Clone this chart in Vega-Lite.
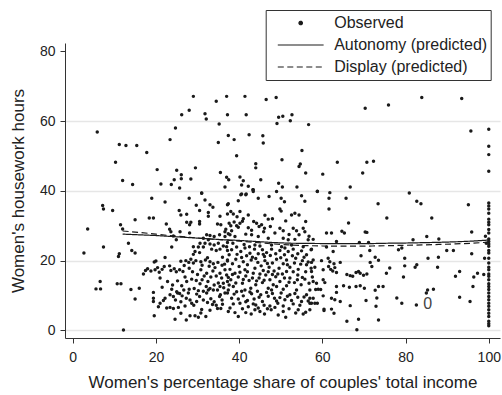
{
"$schema": "https://vega.github.io/schema/vega-lite/v6.json",
"width": 435, "height": 295,
"autosize": "none",
"padding": {"left": 65, "top": 43, "right": 2, "bottom": 57},
"background": "white",
"config": {"view": {"stroke": null}, "font": "Liberation Sans",
 "legend": {"title": null, "orient": "none", "legendX": 200.7, "legendY": -33, "symbolType": "stroke", "symbolSize": 2100, "symbolStrokeWidth": 1.2, "clipHeight": 20, "rowPadding": 2, "padding": 3, "symbolOffset": 8,
    "labelFont": "Liberation Sans", "labelFontSize": 16, "labelColor": "#222", "labelOffset": 9.5, "strokeColor": "#333", "fillColor": "white"}},
"datasets": {
"obs": [
{"x":29.0,"y":67.1},{"x":37.0,"y":67.1},{"x":41.4,"y":67.1},{"x":48.9,"y":66.8},{"x":83.9,"y":66.8},{"x":93.5,"y":66.5},{"x":75.9,"y":64.6},{"x":70.3,"y":63.7},
{"x":5.9,"y":56.9},{"x":95.7,"y":57.2},{"x":100,"y":57.7},{"x":11.2,"y":53.3},{"x":12.8,"y":53.0},{"x":15.4,"y":53.0},{"x":100,"y":52.8},{"x":100,"y":50.4},
{"x":72.3,"y":48.5},{"x":70.7,"y":48.2},{"x":10.3,"y":48.2},{"x":63.6,"y":48.2},{"x":100,"y":45.6},{"x":69.7,"y":45.1},{"x":60.1,"y":44.8},{"x":12.0,"y":43.0},{"x":14.4,"y":41.8},
{"x":34.5,"y":65.7},{"x":46.5,"y":66.2},{"x":26.2,"y":61.8},{"x":28.0,"y":63.1},{"x":31.8,"y":62.1},{"x":32.1,"y":60.6},{"x":37.2,"y":61.8},{"x":41.7,"y":61.8},{"x":49.5,"y":61.1},{"x":50.5,"y":61.4},{"x":52.7,"y":61.8},{"x":52.3,"y":60.1},{"x":49.1,"y":59.3},{"x":35.2,"y":59.2},{"x":56.7,"y":59.0},{"x":24.7,"y":58.0},{"x":23.4,"y":54.7},{"x":17.8,"y":51.0},{"x":35.0,"y":53.9},{"x":37.4,"y":55.9},{"x":38.8,"y":54.7},{"x":42.4,"y":56.1},{"x":45.7,"y":55.8},{"x":45.8,"y":53.7},{"x":39.4,"y":50.1},{"x":55.1,"y":51.6},{"x":44.0,"y":47.8},{"x":44.0,"y":46.6},{"x":50.3,"y":48.9},{"x":54.7,"y":47.7},{"x":54.4,"y":47.0},{"x":56.0,"y":45.1},{"x":20.3,"y":46.1},{"x":25.0,"y":45.9},{"x":26.1,"y":44.6},{"x":26.1,"y":43.5},{"x":24.4,"y":43.2},{"x":29.5,"y":46.6},{"x":28.4,"y":43.4},{"x":21.2,"y":42.0},{"x":23.7,"y":41.8},{"x":25.7,"y":40.8},{"x":35.5,"y":45.3},{"x":37.0,"y":43.9},{"x":37.5,"y":43.2},{"x":40.2,"y":44.0},{"x":41.0,"y":42.9},{"x":36.6,"y":41.1},{"x":40.6,"y":41.7},{"x":42.2,"y":41.3},{"x":43.4,"y":40.3},{"x":45.2,"y":43.2},{"x":49.5,"y":42.2},{"x":50.4,"y":41.1},{"x":53.9,"y":41.1},{"x":58.8,"y":39.9},{"x":31.0,"y":39.4},{"x":40.6,"y":39.1},{"x":41.7,"y":39.1},{"x":43.3,"y":40.3},
{"x":7.2,"y":35.8},{"x":7.4,"y":34.8},{"x":9.6,"y":34.4},{"x":15.0,"y":31.7},{"x":11.5,"y":30.3},{"x":12.0,"y":29.1},{"x":3.6,"y":29.1},{"x":13.4,"y":25.0},{"x":7.4,"y":23.9},{"x":11.2,"y":22.0},{"x":11.0,"y":21.2},{"x":14.2,"y":22.9},{"x":15.0,"y":22.2},{"x":2.7,"y":22.2},{"x":6.6,"y":14.0},{"x":5.6,"y":11.9},{"x":6.7,"y":11.9},{"x":10.7,"y":13.4},{"x":11.6,"y":13.4},{"x":14.0,"y":11.7},{"x":15.0,"y":9.0},{"x":16.0,"y":12.1},{"x":12.2,"y":0.1},
{"x":19.0,"y":37.9},{"x":22.2,"y":36.8},{"x":28.0,"y":37.9},{"x":31.0,"y":39.3},{"x":31.8,"y":37.4},{"x":29.7,"y":35.9},{"x":33.0,"y":36.0},{"x":33.7,"y":35.3},{"x":37.2,"y":36.0},{"x":25.6,"y":34.4},{"x":26.0,"y":33.1},{"x":27.4,"y":33.3},{"x":30.5,"y":34.4},{"x":32.6,"y":33.8},{"x":32.6,"y":32.7},{"x":35.4,"y":32.7},{"x":37.2,"y":33.4},{"x":18.4,"y":32.2},{"x":19.4,"y":32.2},{"x":27.4,"y":31.0},{"x":28.4,"y":31.0},{"x":28.1,"y":30.3},{"x":30.5,"y":31.2},{"x":30.5,"y":30.5},{"x":34.8,"y":30.5},{"x":35.6,"y":30.3},{"x":22.5,"y":30.5},{"x":23.3,"y":29.0},{"x":23.6,"y":28.3},{"x":25.8,"y":28.3},{"x":28.1,"y":27.9},{"x":24.2,"y":27.1},{"x":32.2,"y":27.4},{"x":33.0,"y":27.2},{"x":34.0,"y":26.9},{"x":35.3,"y":27.4},{"x":36.6,"y":26.9},{"x":37.4,"y":27.7},{"x":31.4,"y":26.4},{"x":32.6,"y":26.0},{"x":31.8,"y":25.0},{"x":33.0,"y":24.8},{"x":30.6,"y":25.0},{"x":34.0,"y":24.5},{"x":35.0,"y":25.0},{"x":29.0,"y":24.0},{"x":30.2,"y":23.9},{"x":31.4,"y":23.9},{"x":29.4,"y":22.6},{"x":29.0,"y":21.8},{"x":30.5,"y":22.3},{"x":33.4,"y":23.3},{"x":34.5,"y":22.9},{"x":35.4,"y":23.3},{"x":36.2,"y":24.2},{"x":37.2,"y":25.2},{"x":37.2,"y":22.9},{"x":23.8,"y":23.9},{"x":24.9,"y":26.0},{"x":20.0,"y":19.9},{"x":19.6,"y":19.6},{"x":22.2,"y":20.9},{"x":17.0,"y":16.2},{"x":17.5,"y":17.2},{"x":18.0,"y":17.7},{"x":18.8,"y":17.0},{"x":19.8,"y":17.4},{"x":20.4,"y":18.0},{"x":20.8,"y":16.7},{"x":21.5,"y":17.5},{"x":22.0,"y":18.3},{"x":23.3,"y":18.5},{"x":23.6,"y":17.2},{"x":24.4,"y":17.7},{"x":24.9,"y":16.8},{"x":25.7,"y":17.4},{"x":26.5,"y":16.9},{"x":27.2,"y":20.0},{"x":27.9,"y":19.5},{"x":28.4,"y":20.4},{"x":29.0,"y":19.3},{"x":29.6,"y":20.0},{"x":30.8,"y":19.7},{"x":31.1,"y":18.7},{"x":31.9,"y":20.2},{"x":32.4,"y":20.8},{"x":33.0,"y":19.7},{"x":33.8,"y":19.1},{"x":34.9,"y":19.5},{"x":35.9,"y":18.7},{"x":37.2,"y":19.9},{"x":27.0,"y":15.3},{"x":27.4,"y":14.0},{"x":28.6,"y":14.7},{"x":29.7,"y":14.3},{"x":30.6,"y":13.4},{"x":31.1,"y":14.5},{"x":32.1,"y":12.6},{"x":33.0,"y":12.0},{"x":33.8,"y":11.6},{"x":34.8,"y":11.6},{"x":35.4,"y":12.6},{"x":36.2,"y":13.5},{"x":37.2,"y":14.0},{"x":37.4,"y":15.2},{"x":34.5,"y":15.6},{"x":33.2,"y":15.3},{"x":32.2,"y":16.4},{"x":33.7,"y":17.0},{"x":35.4,"y":16.4},{"x":36.6,"y":17.4},{"x":19.4,"y":10.9},{"x":19.4,"y":9.2},{"x":19.4,"y":8.3},{"x":22.2,"y":9.2},{"x":23.8,"y":11.8},{"x":24.2,"y":9.7},{"x":24.7,"y":8.7},{"x":25.0,"y":11.1},{"x":25.7,"y":10.6},{"x":26.3,"y":9.9},{"x":26.7,"y":11.6},{"x":27.3,"y":9.2},{"x":27.8,"y":10.7},{"x":28.2,"y":8.7},{"x":28.6,"y":7.8},{"x":29.1,"y":7.2},{"x":29.8,"y":8.3},{"x":30.5,"y":9.7},{"x":31.4,"y":8.7},{"x":32.2,"y":10.7},{"x":32.6,"y":11.6},{"x":33.2,"y":9.1},{"x":34.0,"y":8.2},{"x":34.5,"y":7.2},{"x":35.3,"y":9.7},{"x":35.9,"y":8.7},{"x":36.6,"y":10.7},{"x":37.4,"y":11.6},{"x":34.8,"y":6.3},{"x":35.6,"y":6.3},{"x":20.6,"y":6.8},{"x":23.4,"y":6.6},{"x":24.2,"y":6.3},{"x":26.0,"y":4.9},{"x":28.2,"y":4.2},{"x":29.4,"y":4.2},{"x":30.2,"y":3.8},{"x":32.0,"y":4.0},{"x":24.6,"y":3.2},{"x":27.3,"y":3.0},{"x":19.6,"y":4.2},{"x":21.0,"y":7.8},{"x":21.8,"y":8.6},{"x":22.6,"y":6.4},{"x":23.4,"y":10.2},{"x":25.2,"y":10.7},
{"x":40.4,"y":38.9},{"x":41.6,"y":38.9},{"x":43.4,"y":39.8},{"x":44.6,"y":37.9},{"x":47.2,"y":38.4},{"x":49.0,"y":39.8},{"x":50.1,"y":37.9},{"x":50.9,"y":36.9},{"x":55.0,"y":38.6},{"x":55.8,"y":37.0},{"x":37.4,"y":36.3},{"x":39.8,"y":37.2},{"x":38.0,"y":34.1},{"x":38.6,"y":33.4},{"x":40.2,"y":34.1},{"x":42.2,"y":33.1},{"x":49.8,"y":34.8},{"x":50.1,"y":34.2},{"x":52.6,"y":33.1},{"x":53.4,"y":33.6},{"x":54.4,"y":33.1},{"x":37.6,"y":30.7},{"x":38.0,"y":30.0},{"x":38.8,"y":31.1},{"x":39.4,"y":30.0},{"x":40.2,"y":30.7},{"x":40.8,"y":31.3},{"x":39.8,"y":29.6},{"x":43.5,"y":31.2},{"x":44.2,"y":30.7},{"x":44.8,"y":29.8},{"x":45.4,"y":30.3},{"x":46.1,"y":29.3},{"x":45.9,"y":28.3},{"x":47.0,"y":31.9},{"x":49.8,"y":29.3},{"x":53.0,"y":29.3},{"x":53.8,"y":28.6},{"x":55.4,"y":29.3},{"x":55.8,"y":28.3},{"x":48.6,"y":27.9},{"x":43.0,"y":27.4},{"x":41.6,"y":27.6},{"x":37.8,"y":27.4},{"x":39.0,"y":26.9},{"x":36.6,"y":28.3},{"x":44.6,"y":26.9},{"x":47.0,"y":26.4},{"x":50.6,"y":26.4},{"x":51.8,"y":26.0},{"x":53.4,"y":26.1},{"x":56.6,"y":26.0},{"x":57.8,"y":26.1},
{"x":37.0,"y":24.0},{"x":38.2,"y":23.1},{"x":39.4,"y":23.9},{"x":40.4,"y":22.6},{"x":41.4,"y":23.6},{"x":42.6,"y":22.1},{"x":43.7,"y":23.3},{"x":44.6,"y":22.0},{"x":45.6,"y":23.1},{"x":46.6,"y":22.3},{"x":47.8,"y":23.3},{"x":48.8,"y":22.0},{"x":49.8,"y":22.9},{"x":50.9,"y":21.7},{"x":51.8,"y":22.6},{"x":53.0,"y":23.3},{"x":54.1,"y":22.0},{"x":55.0,"y":22.8},{"x":56.2,"y":21.7},{"x":57.3,"y":23.1},{"x":37.6,"y":21.7},{"x":41.8,"y":21.4},{"x":46.1,"y":21.2},{"x":50.2,"y":24.0},{"x":55.4,"y":24.0},{"x":43.8,"y":24.5},{"x":47.8,"y":24.5},{"x":52.6,"y":24.5},
{"x":37.2,"y":20.2},{"x":38.4,"y":19.1},{"x":39.2,"y":20.4},{"x":40.0,"y":18.3},{"x":41.0,"y":19.7},{"x":42.0,"y":18.8},{"x":42.9,"y":20.2},{"x":43.8,"y":17.8},{"x":44.5,"y":19.5},{"x":45.3,"y":18.5},{"x":46.2,"y":20.0},{"x":47.2,"y":18.1},{"x":48.0,"y":19.3},{"x":49.0,"y":20.4},{"x":49.6,"y":17.8},{"x":50.6,"y":19.1},{"x":51.4,"y":20.2},{"x":52.2,"y":18.1},{"x":53.3,"y":19.3},{"x":54.2,"y":17.5},{"x":55.2,"y":20.0},{"x":56.2,"y":18.8},{"x":57.3,"y":17.8},{"x":57.8,"y":20.2},{"x":37.8,"y":17.5},{"x":41.4,"y":17.4},{"x":45.8,"y":17.2},{"x":51.4,"y":16.9},
{"x":37.0,"y":15.9},{"x":38.0,"y":14.5},{"x":39.0,"y":16.4},{"x":39.8,"y":15.3},{"x":40.8,"y":13.5},{"x":41.6,"y":15.6},{"x":42.4,"y":14.3},{"x":43.4,"y":16.4},{"x":44.0,"y":13.1},{"x":44.8,"y":15.0},{"x":45.6,"y":13.7},{"x":46.4,"y":15.9},{"x":47.4,"y":14.5},{"x":48.2,"y":13.1},{"x":48.8,"y":15.4},{"x":49.8,"y":14.0},{"x":50.4,"y":16.2},{"x":51.4,"y":12.8},{"x":52.2,"y":15.0},{"x":53.3,"y":13.7},{"x":54.1,"y":15.9},{"x":54.9,"y":13.1},{"x":55.8,"y":14.7},{"x":56.8,"y":13.5},{"x":57.6,"y":15.3},{"x":38.6,"y":12.6},{"x":42.8,"y":12.1},{"x":47.0,"y":12.1},{"x":50.6,"y":11.8},
{"x":37.2,"y":10.7},{"x":38.2,"y":9.2},{"x":39.4,"y":11.1},{"x":40.2,"y":7.8},{"x":41.0,"y":9.9},{"x":42.0,"y":8.6},{"x":43.0,"y":10.5},{"x":44.0,"y":7.3},{"x":44.8,"y":9.5},{"x":45.6,"y":8.3},{"x":46.6,"y":10.9},{"x":47.4,"y":7.0},{"x":48.5,"y":9.2},{"x":49.3,"y":7.8},{"x":50.1,"y":10.7},{"x":51.0,"y":8.8},{"x":52.2,"y":10.2},{"x":53.0,"y":7.6},{"x":54.1,"y":9.5},{"x":55.0,"y":8.3},{"x":56.2,"y":10.2},{"x":57.0,"y":7.8},{"x":57.8,"y":9.2},{"x":41.4,"y":11.6},{"x":47.8,"y":11.6},{"x":53.8,"y":11.6},
{"x":37.8,"y":6.4},{"x":39.0,"y":5.1},{"x":39.8,"y":4.0},{"x":41.6,"y":5.1},{"x":42.9,"y":4.7},{"x":44.6,"y":6.4},{"x":46.1,"y":4.7},{"x":47.7,"y":5.9},{"x":49.4,"y":4.4},{"x":50.6,"y":5.4},{"x":51.2,"y":3.8},{"x":54.2,"y":5.9},{"x":55.4,"y":4.7},{"x":57.0,"y":5.9},{"x":37.4,"y":5.4},{"x":43.8,"y":5.9},
{"x":36.0,"y":21.0},{"x":36.5,"y":19.0},{"x":35.8,"y":15.0},{"x":36.3,"y":12.2},{"x":35.5,"y":10.2},{"x":36.0,"y":7.5},{"x":38.5,"y":25.0},{"x":39.5,"y":21.8},{"x":40.6,"y":20.9},{"x":41.2,"y":24.6},{"x":42.5,"y":24.0},{"x":43.2,"y":21.0},{"x":44.0,"y":20.6},{"x":45.0,"y":24.2},{"x":45.8,"y":21.8},{"x":46.8,"y":19.2},{"x":47.5,"y":21.5},{"x":48.4,"y":17.0},{"x":49.3,"y":16.2},{"x":50.0,"y":20.8},{"x":51.0,"y":23.6},{"x":51.6,"y":18.8},{"x":52.8,"y":21.4},{"x":53.6,"y":20.7},{"x":54.8,"y":19.0},{"x":55.6,"y":21.0},{"x":56.6,"y":19.6},{"x":56.0,"y":16.8},{"x":55.2,"y":15.2},{"x":54.0,"y":14.5},{"x":53.0,"y":16.8},{"x":52.0,"y":13.8},{"x":50.9,"y":15.0},{"x":49.0,"y":12.6},{"x":48.0,"y":16.0},{"x":47.0,"y":16.8},{"x":46.0,"y":14.4},{"x":45.0,"y":16.2},{"x":44.2,"y":14.2},{"x":43.2,"y":15.0},{"x":42.0,"y":16.8},{"x":41.0,"y":14.6},{"x":40.2,"y":16.7},{"x":39.2,"y":13.6},{"x":38.4,"y":16.0},{"x":37.6,"y":13.0},{"x":38.8,"y":10.4},{"x":39.8,"y":9.0},{"x":40.6,"y":11.2},{"x":41.6,"y":8.2},{"x":42.6,"y":11.0},{"x":43.6,"y":9.0},{"x":44.4,"y":11.2},{"x":45.2,"y":10.2},{"x":46.0,"y":7.2},{"x":47.0,"y":9.8},{"x":48.0,"y":10.6},{"x":49.0,"y":8.4},{"x":49.8,"y":9.4},{"x":50.6,"y":7.0},{"x":51.6,"y":9.8},{"x":52.6,"y":8.6},{"x":53.4,"y":10.6},{"x":54.6,"y":7.2},{"x":55.6,"y":9.6},{"x":56.6,"y":8.4},{"x":38.6,"y":7.6},{"x":40.8,"y":6.2},{"x":42.2,"y":6.8},{"x":43.4,"y":7.6},{"x":45.0,"y":5.4},{"x":46.8,"y":6.2},{"x":48.6,"y":6.6},{"x":52.0,"y":6.2},{"x":53.6,"y":5.0},{"x":56.0,"y":5.2},{"x":30.0,"y":16.0},{"x":30.8,"y":17.4},{"x":31.6,"y":15.6},{"x":32.8,"y":18.4},{"x":34.2,"y":18.0},{"x":35.0,"y":13.6},{"x":34.0,"y":13.0},{"x":32.5,"y":14.0},{"x":31.4,"y":11.2},{"x":30.2,"y":11.4},{"x":29.2,"y":12.0},{"x":28.8,"y":16.8},{"x":28.0,"y":17.8},{"x":26.8,"y":18.6},{"x":26.0,"y":19.8},{"x":25.2,"y":14.2},{"x":26.2,"y":12.8},{"x":28.0,"y":11.8},{"x":29.8,"y":10.4},{"x":31.0,"y":6.0},{"x":33.0,"y":5.8},{"x":33.6,"y":7.4},{"x":32.4,"y":8.0},{"x":30.8,"y":5.0},{"x":27.0,"y":7.0},{"x":25.4,"y":6.6},{"x":26.0,"y":8.2},{"x":22.8,"y":14.0},{"x":21.5,"y":12.4},{"x":24.0,"y":13.0},{"x":21.0,"y":15.0},{"x":36.8,"y":29.0},{"x":38.2,"y":28.6},{"x":42.2,"y":29.4},{"x":43.0,"y":28.7},{"x":47.5,"y":29.8},{"x":50.6,"y":28.6},{"x":52.0,"y":27.5},{"x":54.4,"y":27.4},{"x":56.8,"y":27.0},{"x":39.5,"y":32.6},{"x":41.0,"y":32.0},{"x":46.2,"y":33.0},{"x":48.0,"y":32.0},{"x":51.2,"y":31.4},{"x":56.0,"y":31.2},
{"x":58.8,"y":39.8},{"x":61.8,"y":39.5},{"x":61.6,"y":37.9},{"x":61.6,"y":34.8},{"x":61.0,"y":27.9},{"x":62.2,"y":27.9},{"x":63.4,"y":25.5},{"x":57.4,"y":23.3},{"x":61.0,"y":23.9},{"x":62.6,"y":22.6},{"x":61.4,"y":20.7},{"x":57.4,"y":19.5},{"x":59.8,"y":20.0},{"x":61.8,"y":19.7},{"x":62.8,"y":19.1},{"x":60.2,"y":17.4},{"x":61.5,"y":18.3},{"x":62.0,"y":17.5},{"x":62.5,"y":17.0},{"x":63.0,"y":18.0},{"x":63.4,"y":16.6},{"x":58.2,"y":18.1},{"x":57.4,"y":16.9},{"x":57.8,"y":14.0},{"x":58.6,"y":13.5},{"x":59.0,"y":11.8},{"x":58.4,"y":11.7},{"x":59.6,"y":11.7},{"x":60.6,"y":13.7},{"x":60.2,"y":14.5},{"x":63.4,"y":12.6},{"x":57.0,"y":9.2},{"x":57.4,"y":7.8},{"x":60.2,"y":9.9},{"x":62.2,"y":9.2},{"x":63.0,"y":8.8},{"x":63.4,"y":10.9},{"x":58.2,"y":7.8},{"x":58.8,"y":7.8},{"x":60.4,"y":6.1},{"x":60.4,"y":5.7},{"x":62.2,"y":6.1},{"x":62.8,"y":4.9},{"x":57.0,"y":11.6},
{"x":66.7,"y":41.1},{"x":65.7,"y":37.9},{"x":80.9,"y":39.4},{"x":82.7,"y":37.0},{"x":83.7,"y":36.3},{"x":73.4,"y":36.3},{"x":95.1,"y":36.0},{"x":75.5,"y":32.2},{"x":86.3,"y":32.2},{"x":66.3,"y":30.8},{"x":64.7,"y":28.4},{"x":65.3,"y":27.9},{"x":70.3,"y":28.2},{"x":70.7,"y":28.1},{"x":95.9,"y":28.2},{"x":68.9,"y":25.2},{"x":71.1,"y":25.2},{"x":81.8,"y":26.0},{"x":85.1,"y":26.9},{"x":88.0,"y":26.2},{"x":78.3,"y":23.1},{"x":79.1,"y":23.6},{"x":71.4,"y":22.9},{"x":69.3,"y":21.4},{"x":89.9,"y":22.9},{"x":91.5,"y":22.9},{"x":95.9,"y":22.0},{"x":79.8,"y":20.7},{"x":85.4,"y":20.7},{"x":87.9,"y":21.0},{"x":72.7,"y":21.0},{"x":73.5,"y":20.1},{"x":64.3,"y":19.5},{"x":71.5,"y":19.5},{"x":71.9,"y":18.3},{"x":82.3,"y":18.1},{"x":82.7,"y":18.8},{"x":87.7,"y":18.1},{"x":76.2,"y":17.9},{"x":75.4,"y":16.4},{"x":79.8,"y":18.5},{"x":79.5,"y":15.3},{"x":93.0,"y":16.9},{"x":92.0,"y":15.5},{"x":97.3,"y":16.4},{"x":96.4,"y":15.3},{"x":65.9,"y":16.0},{"x":66.7,"y":15.7},{"x":67.3,"y":15.5},{"x":68.1,"y":16.6},{"x":68.7,"y":16.9},{"x":69.1,"y":16.4},{"x":69.9,"y":15.8},{"x":70.7,"y":16.2},{"x":65.1,"y":12.8},{"x":66.5,"y":12.4},{"x":68.1,"y":12.6},{"x":69.1,"y":12.8},{"x":70.1,"y":12.1},{"x":72.7,"y":11.5},{"x":73.5,"y":12.6},{"x":74.6,"y":12.6},{"x":85.0,"y":10.7},{"x":85.3,"y":11.6},{"x":86.7,"y":11.8},{"x":96.2,"y":12.6},{"x":64.3,"y":8.3},{"x":66.7,"y":7.1},{"x":70.5,"y":8.6},{"x":72.9,"y":6.9},{"x":73.1,"y":9.3},{"x":77.9,"y":9.3},{"x":79.1,"y":7.8},{"x":82.6,"y":7.3},{"x":93.0,"y":9.5},{"x":95.5,"y":8.3},{"x":65.9,"y":2.6},{"x":68.7,"y":3.2},{"x":68.3,"y":0.2},{"x":73.5,"y":3.0},
{"x":100,"y":36.5},{"x":100,"y":35.7},{"x":100,"y":34.8},{"x":100,"y":33.6},{"x":100,"y":31.9},{"x":100,"y":31.0},{"x":100,"y":30.3},{"x":100,"y":28.9},{"x":100,"y":27.9},{"x":100,"y":26.2},{"x":100,"y":25.5},{"x":100,"y":24.8},{"x":100,"y":24.1},{"x":100,"y":22.9},{"x":100,"y":22.2},{"x":100,"y":20.7},{"x":100,"y":19.3},{"x":100,"y":18.1},{"x":100,"y":17.4},{"x":100,"y":16.2},{"x":100,"y":15.5},{"x":100,"y":14.5},{"x":100,"y":13.4},{"x":100,"y":12.6},{"x":100,"y":11.7},{"x":100,"y":10.7},{"x":100,"y":9.7},{"x":100,"y":8.8},{"x":100,"y":7.8},{"x":100,"y":6.9},{"x":100,"y":5.9},{"x":100,"y":4.9},{"x":100,"y":4.0},{"x":100,"y":2.6},{"x":100,"y":1.9},{"x":100,"y":1.3},{"x":99.0,"y":20.7},{"x":99.4,"y":25.0},{"x":99.2,"y":27.0},{"x":98.8,"y":16.0}
],
"pred": [
{"s":"Autonomy (predicted)","x":12,"y":27.6},{"s":"Autonomy (predicted)","x":16,"y":27.4},{"s":"Autonomy (predicted)","x":20,"y":27.2},{"s":"Autonomy (predicted)","x":24,"y":26.9},{"s":"Autonomy (predicted)","x":28,"y":26.6},{"s":"Autonomy (predicted)","x":32,"y":26.3},{"s":"Autonomy (predicted)","x":36,"y":26.0},{"s":"Autonomy (predicted)","x":40,"y":25.8},{"s":"Autonomy (predicted)","x":44,"y":25.5},{"s":"Autonomy (predicted)","x":48,"y":25.2},{"s":"Autonomy (predicted)","x":52,"y":25.0},{"s":"Autonomy (predicted)","x":56,"y":24.95},{"s":"Autonomy (predicted)","x":60,"y":24.9},{"s":"Autonomy (predicted)","x":64,"y":24.85},{"s":"Autonomy (predicted)","x":68,"y":24.85},{"s":"Autonomy (predicted)","x":72,"y":24.9},{"s":"Autonomy (predicted)","x":76,"y":25.0},{"s":"Autonomy (predicted)","x":80,"y":25.05},{"s":"Autonomy (predicted)","x":84,"y":25.15},{"s":"Autonomy (predicted)","x":88,"y":25.25},{"s":"Autonomy (predicted)","x":92,"y":25.4},{"s":"Autonomy (predicted)","x":96,"y":25.6},{"s":"Autonomy (predicted)","x":100,"y":25.9},
{"s":"Display (predicted)","x":12,"y":28.5},{"s":"Display (predicted)","x":16,"y":28.1},{"s":"Display (predicted)","x":20,"y":27.6},{"s":"Display (predicted)","x":24,"y":27.1},{"s":"Display (predicted)","x":28,"y":26.7},{"s":"Display (predicted)","x":32,"y":26.3},{"s":"Display (predicted)","x":36,"y":25.95},{"s":"Display (predicted)","x":40,"y":25.6},{"s":"Display (predicted)","x":44,"y":25.2},{"s":"Display (predicted)","x":48,"y":24.8},{"s":"Display (predicted)","x":52,"y":24.5},{"s":"Display (predicted)","x":56,"y":24.3},{"s":"Display (predicted)","x":60,"y":24.2},{"s":"Display (predicted)","x":64,"y":24.15},{"s":"Display (predicted)","x":68,"y":24.15},{"s":"Display (predicted)","x":72,"y":24.2},{"s":"Display (predicted)","x":76,"y":24.3},{"s":"Display (predicted)","x":80,"y":24.4},{"s":"Display (predicted)","x":84,"y":24.5},{"s":"Display (predicted)","x":88,"y":24.65},{"s":"Display (predicted)","x":92,"y":24.8},{"s":"Display (predicted)","x":96,"y":25.0},{"s":"Display (predicted)","x":100,"y":25.3}
],
"lbl": [{"x":85.3,"y":7.65,"t":"0"}]
},
"layer": [
{"data": {"name": "obs"},
 "mark": {"type": "point", "filled": true, "size": 12, "opacity": 1},
 "encoding": {
  "x": {"field": "x", "type": "quantitative", "scale": {"domain": [-1.85, 102.7], "nice": false, "zero": false},
   "axis": {"values": [0,20,40,60,80,100], "title": "Women's percentage share of couples' total income", "titleFont": "Liberation Sans", "titleFontSize": 17, "titleFontWeight": "normal", "titleColor": "#222", "labelFont": "Liberation Sans", "labelFontSize": 14, "labelColor": "#222", "domainColor": "#333", "tickColor": "#333", "tickSize": 5, "labelPadding": 7, "titlePadding": 10, "grid": false, "labelFlush": false}},
  "y": {"field": "y", "type": "quantitative", "scale": {"domain": [-2.18, 82.4], "nice": false, "zero": false},
   "axis": {"values": [0,20,40,60,80], "title": "Women's housework hours", "titleFont": "Liberation Sans", "titleFontSize": 17, "titleFontWeight": "normal", "titleColor": "#222", "labelFont": "Liberation Sans", "labelFontSize": 14, "labelColor": "#222", "domainColor": "#333", "tickColor": "#333", "tickSize": 5, "labelPadding": 5, "titlePadding": 12, "grid": true, "gridColor": {"condition": {"test": "datum.value == 80", "value": "transparent"}, "value": "#e6e6e6"}, "gridWidth": 1.5, "labelFlush": false}},
  "color": {"datum": "Observed", "type": "nominal", "title": null,
   "scale": {"domain": ["Observed", "Autonomy (predicted)", "Display (predicted)"], "range": ["#1a1a1a", "#1a1a1a", "#1a1a1a"]},
   "legend": {"labelExpr": "datum.label + '      '",
    "encode": {"symbols": {"update": {
      "shape": {"signal": "datum.value === 'Observed' ? 'circle' : 'stroke'"},
      "size": {"signal": "datum.value === 'Observed' ? 12 : 2100"},
      "strokeDash": {"signal": "datum.value === 'Display (predicted)' ? [6, 3.5] : [1, 0]"},
      "fill": {"signal": "datum.value === 'Observed' ? '#1a1a1a' : 'transparent'"},
      "stroke": {"signal": "datum.value === 'Observed' ? 'transparent' : '#1a1a1a'"},
      "opacity": {"value": 1}
    }}}}}
 }},
{"data": {"name": "pred"},
 "mark": {"type": "line", "strokeWidth": 1.2},
 "encoding": {
  "x": {"field": "x", "type": "quantitative"},
  "y": {"field": "y", "type": "quantitative"},
  "color": {"field": "s", "type": "nominal", "title": null,
   "legend": {"labelExpr": "datum.label + '      '",
    "encode": {"symbols": {"update": {
      "shape": {"signal": "datum.value === 'Observed' ? 'circle' : 'stroke'"},
      "size": {"signal": "datum.value === 'Observed' ? 12 : 2100"},
      "strokeDash": {"signal": "datum.value === 'Display (predicted)' ? [6, 3.5] : [1, 0]"},
      "fill": {"signal": "datum.value === 'Observed' ? '#1a1a1a' : 'transparent'"},
      "stroke": {"signal": "datum.value === 'Observed' ? 'transparent' : '#1a1a1a'"},
      "opacity": {"value": 1}
    }}}}},
  "strokeDash": {"field": "s", "type": "nominal", "scale": {"domain": ["Autonomy (predicted)", "Display (predicted)"], "range": [[1, 0], [6, 3.5]]}, "legend": null}
 }},
{"data": {"name": "lbl"},
 "mark": {"type": "text", "fontSize": 16, "font": "Liberation Sans", "color": "#444"},
 "encoding": {
  "x": {"field": "x", "type": "quantitative"},
  "y": {"field": "y", "type": "quantitative"},
  "text": {"field": "t"}
 }}
]
}
